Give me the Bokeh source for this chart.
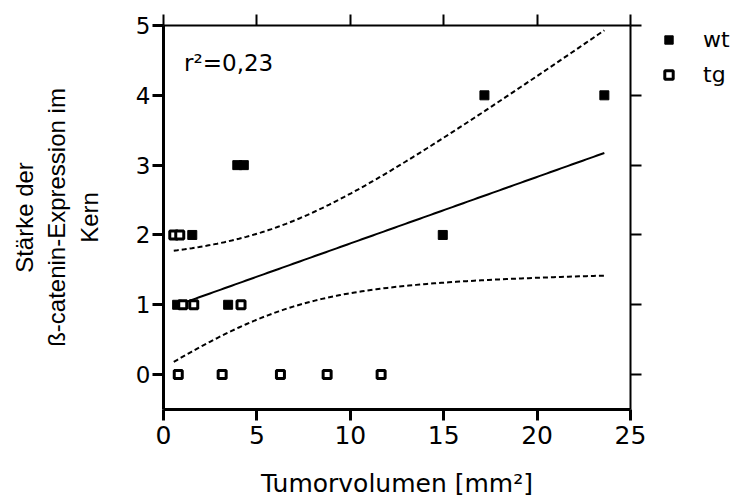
import numpy as np
from bokeh.plotting import figure
from bokeh.layouts import row, column
from bokeh.models import LinearAxis, Range1d, FixedTicker, Legend, LegendItem, Label
from bokeh.embed import file_html
from bokeh.resources import INLINE

# ---- data ----
wt_x = [0.73, 1.54, 3.46, 3.95, 4.3, 14.95, 17.18, 23.6]
wt_y = [1, 2, 1, 3, 3, 2, 4, 4]
tg_x = [0.55, 0.87, 1.03, 1.62, 4.15, 0.79, 3.14, 6.26, 8.76, 11.65]
tg_y = [2, 2, 1, 1, 1, 0, 0, 0, 0, 0]
x_ticks = [0, 5, 10, 15, 20, 25]
y_ticks = [0, 1, 2, 3, 4, 5]
r2_text = "r²=0,23"
x_title = "Tumorvolumen [mm²]"
y_title = "Stärke der\nß-catenin-Expression im\nKern"
series_names = ["wt", "tg"]

# ---- linear regression of all points with 95% confidence band ----
ax = np.array(wt_x + tg_x, dtype=float)
ay = np.array(wt_y + tg_y, dtype=float)
n = len(ax)
slope, intercept = np.polyfit(ax, ay, 1)
resid = ay - (slope * ax + intercept)
s = np.sqrt(np.sum(resid ** 2) / (n - 2))
sxx = np.sum((ax - ax.mean()) ** 2)
t_crit = 2.1199  # t(0.975, df=16)
xf = np.linspace(ax.min(), ax.max(), 120)
yf = slope * xf + intercept
half = t_crit * s * np.sqrt(1.0 / n + (xf - ax.mean()) ** 2 / sxx)

FONT = "DejaVu Sans"
TW, TH = 733, 497
W, H = 650, 460          # main plot
LW = TW - W              # legend panel width
BH = TH - H              # x-title strip height
FT, FB = 25, 409         # frame top / bottom in page pixels

p = figure(width=W, height=H, x_range=Range1d(0, 25), y_range=Range1d(-0.5, 5),
           output_backend="svg", toolbar_location=None,
           x_axis_location=None, y_axis_location=None,
           min_border_left=163, min_border_right=W - 630,
           min_border_top=FT, min_border_bottom=H - FB)
p.outline_line_color = None
p.xgrid.visible = False
p.ygrid.visible = False


def style_axis(a, lw, size="24px", labels=True):
    a.axis_line_width = lw
    a.axis_line_color = "black"
    a.major_tick_line_width = lw
    a.major_tick_line_color = "black"
    a.major_tick_out = 11
    a.major_tick_in = 0
    a.minor_tick_line_color = None
    a.major_label_text_font = FONT
    a.major_label_text_font_size = size
    a.major_label_text_color = "black"
    a.major_label_standoff = 3
    if not labels:
        a.major_label_text_font_size = "0px"
        a.major_label_text_color = None


bottom = LinearAxis(ticker=FixedTicker(ticks=x_ticks))
style_axis(bottom, 3, "25px")
bottom.major_label_standoff = 5
p.add_layout(bottom, "below")

left = LinearAxis(ticker=FixedTicker(ticks=y_ticks))
style_axis(left, 3, "23px")
left.axis_label = y_title
left.axis_label_text_font = "Liberation Sans"
left.axis_label_text_font_size = "24px"
left.axis_label_text_font_style = "normal"
left.axis_label_text_color = "black"
left.axis_label_text_line_height = 1.2
left.axis_label_standoff = 30
left.major_label_standoff = 2
p.add_layout(left, "left")

top = LinearAxis(ticker=FixedTicker(ticks=x_ticks))
style_axis(top, 2, labels=False)
p.add_layout(top, "above")

right = LinearAxis(ticker=FixedTicker(ticks=y_ticks))
style_axis(right, 2, labels=False)
p.add_layout(right, "right")

# regression and confidence band
p.line(xf, yf, line_color="black", line_width=2)
p.line(xf, yf + half, line_color="black", line_width=2, line_dash="5 3")
p.line(xf, yf - half, line_color="black", line_width=2, line_dash="5 3")

wt_style = dict(marker="square", fill_color="black", line_color="black", line_width=1)
tg_style = dict(marker="square", fill_color="white", line_color="black", line_width=3)
p.scatter(wt_x, wt_y, size=9, **wt_style)
p.scatter(tg_x, tg_y, size=8, **tg_style)

p.add_layout(Label(x=1.1, y=4.47, text=r2_text, text_font=FONT, text_font_size="23px",
                   text_color="black", text_baseline="middle", text_align="left"))

# ---- legend panel to the right of the plot (its frame is aligned with the main frame) ----
q = figure(width=LW, height=H, x_range=Range1d(100, 101), y_range=Range1d(100, 101),
           output_backend="svg", toolbar_location=None,
           x_axis_location=None, y_axis_location=None,
           min_border_left=0, min_border_right=0, min_border_top=0, min_border_bottom=0)
q.outline_line_color = None
q.xgrid.visible = False
q.ygrid.visible = False
q_wt = q.scatter(wt_x, wt_y, size=9, visible=False, **wt_style)
q_tg = q.scatter(tg_x, tg_y, size=8, visible=False, **tg_style)

GL = 21
ROW = 26
SP = 10
legend_top = 38 - ROW / 2
legend_bottom = legend_top + 2 * ROW + SP
legend = Legend(items=[LegendItem(label=series_names[0], renderers=[q_wt]),
                       LegendItem(label=series_names[1], renderers=[q_tg])],
                location=(8, FB - legend_bottom),
                padding=0, margin=0, spacing=SP,
                glyph_width=GL, glyph_height=GL, label_height=GL, label_standoff=24,
                label_text_font=FONT, label_text_font_size="22px", label_text_color="black",
                inactive_fill_alpha=0,
                border_line_color=None, background_fill_alpha=0)
q.add_layout(legend, "center")

# ---- strip below holding the x-axis title ----
r = figure(width=TW, height=BH, x_range=Range1d(0, TW), y_range=Range1d(0, BH),
           output_backend="svg", toolbar_location=None,
           x_axis_location=None, y_axis_location=None,
           min_border_left=0, min_border_right=0, min_border_top=0, min_border_bottom=0)
r.outline_line_color = None
r.xgrid.visible = False
r.ygrid.visible = False
r.add_layout(Label(x=(163 + 630) / 2, y=14, text=x_title, text_font=FONT, text_font_size="25px",
                   text_color="black", text_baseline="alphabetic", text_align="center"))

layout = column(row(p, q, spacing=0), r, spacing=0)
open("out.html", "w").write(file_html(layout, INLINE))
